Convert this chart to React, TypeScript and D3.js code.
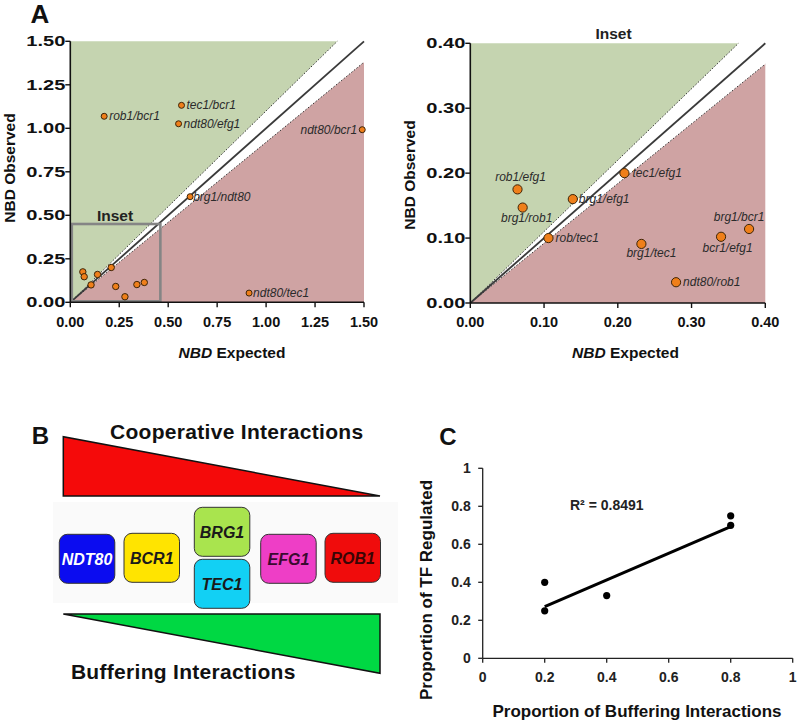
import React from "react";
import * as d3 from "d3";

// ---------- Panel A data ----------
const mainNames = ["rob1/bcr1", "tec1/bcr1", "ndt80/efg1", "ndt80/bcr1", "brg1/ndt80", "ndt80/tec1"];
const mainExpected = [0.173, 0.568, 0.553, 1.491, 0.612, 0.913];
const mainObserved = [1.069, 1.132, 1.026, 0.992, 0.607, 0.053];

const insetNames = ["rob1/efg1", "brg1/rob1", "brg1/efg1", "tec1/efg1", "rob/tec1", "brg1/tec1", "ndt80/rob1", "bcr1/efg1", "brg1/bcr1"];
const insetExpected = [0.064, 0.071, 0.139, 0.209, 0.106, 0.232, 0.279, 0.34, 0.378];
const insetObserved = [0.175, 0.147, 0.16, 0.2, 0.1, 0.091, 0.032, 0.102, 0.114];

const upperSlope = 1.1;
const lowerSlope = 0.92;
const insetBox = [0.46, 0.45];

const mainTicks = [0, 0.25, 0.5, 0.75, 1.0, 1.25, 1.5];
const insetTicks = [0, 0.1, 0.2, 0.3, 0.4];

// ---------- Panel B data ----------
const geneNames = ["NDT80", "BCR1", "BRG1", "TEC1", "EFG1", "ROB1"];
const geneColors = ["#0b0cf0", "#ffe400", "#a9e44e", "#12d0f4", "#ee3ec6", "#f00c0c"];
const geneTextColors = ["#ffffff", "#1a1a1a", "#1a1a1a", "#1a1a1a", "#3a0a30", "#3a0505"];

// ---------- Panel C data ----------
const propBuffering = [0.2, 0.2, 0.4, 0.8, 0.8];
const propRegulated = [0.4, 0.25, 0.33, 0.75, 0.7];
const trendX = [0.2, 0.8];
const trendY = [0.272, 0.693];
const cTicksX = [0, 0.2, 0.4, 0.6, 0.8, 1];
const cTicksY = [0, 0.2, 0.4, 0.6, 0.8, 1];
const rSquaredText = "R² = 0.8491";

// ---------- layout (not data) ----------
const FONT = "'Liberation Sans', Arial, Helvetica, sans-serif";
const GREEN = "#c5d4b0";
const PINK = "#cfa3a3";
const ORANGE = "#ef7f1a";

const mainLabelOffsets: Record<string, [number, number, string]> = {
  "rob1/bcr1": [5, 4, "start"],
  "tec1/bcr1": [5, 4, "start"],
  "ndt80/efg1": [5, 4, "start"],
  "ndt80/bcr1": [-5, 4, "end"],
  "brg1/ndt80": [3, 4, "start"],
  "ndt80/tec1": [4, 4, "start"],
};
const insetLabelOffsets: Record<string, [number, number, string]> = {
  "rob1/efg1": [3, -8, "middle"],
  "brg1/rob1": [4, 14.5, "middle"],
  "brg1/efg1": [6, 4, "start"],
  "tec1/efg1": [8, 4, "start"],
  "rob/tec1": [7, 4, "start"],
  "brg1/tec1": [10, 13, "middle"],
  "ndt80/rob1": [7, 4, "start"],
  "bcr1/efg1": [6.5, 15, "middle"],
  "brg1/bcr1": [-10, -8, "middle"],
};
const geneBoxes = [
  [59.3, 534.3],
  [124, 533.3],
  [194.3, 507.3],
  [194.3, 559.3],
  [260.7, 534.3],
  [325, 533.3],
];

function NBDPanel(props: {
  x0: number; x1: number; y0: number; y1: number; max: number; ticks: number[]; fmt: (v: number) => string;
  points: { name: string; ex: number; ob: number; labeled: boolean; r: number }[];
  offsets: Record<string, [number, number, string]>;
  ylabelX: number; ylabelY: number; xlabelX: number;
  children?: React.ReactNode;
}) {
  const { x0, x1, y0, y1, max } = props;
  const x = d3.scaleLinear().domain([0, max]).range([x0, x1]);
  const y = d3.scaleLinear().domain([0, max]).range([y0, y1]);
  const line = d3.line<[number, number]>().x((d) => x(d[0])).y((d) => y(d[1]));
  const greenPoly: [number, number][] = [[0, 0], [max / upperSlope, max], [0, max]];
  const pinkPoly: [number, number][] = [[0, 0], [max, max * lowerSlope], [max, 0]];
  return (
    <g>
      <path d={line(greenPoly) + "Z"} fill={GREEN} />
      <path d={line(pinkPoly) + "Z"} fill={PINK} />
      <path d={line([[0, 0], [max / upperSlope, max]]) || ""} stroke="#333" strokeWidth={1} strokeDasharray="1.5,1.8" fill="none" />
      <path d={line([[0, 0], [max, max * lowerSlope]]) || ""} stroke="#333" strokeWidth={1} strokeDasharray="1.5,1.8" fill="none" />
      <path d={line([[0, 0], [max, max]]) || ""} stroke="#3a3a3a" strokeWidth={1.8} fill="none" />
      {props.children}
      {/* axes */}
      <line x1={x0} x2={x0} y1={y1} y2={y0} stroke="#111" strokeWidth={1.6} />
      <line x1={x0} x2={x1} y1={y0} y2={y0} stroke="#111" strokeWidth={1.6} />
      {props.ticks.map((t) => (
        <g key={"yt" + t}>
          <line x1={x0 - 5} x2={x0} y1={y(t)} y2={y(t)} stroke="#111" strokeWidth={1.4} />
          <text x={x0 - 5} y={y(t)} dy="0.36em" textAnchor="end" fontFamily={FONT} fontWeight="bold" fontSize={14} fill="#111"
            textLength={39} lengthAdjust="spacingAndGlyphs">{props.fmt(t)}</text>
        </g>
      ))}
      {props.ticks.map((t) => (
        <g key={"xt" + t}>
          <line x1={x(t)} x2={x(t)} y1={y0} y2={y0 + 5} stroke="#111" strokeWidth={1.4} />
          <text x={x(t)} y={y0 + 24.4} textAnchor="middle" fontFamily={FONT} fontWeight="bold" fontSize={14.5} fill="#111">{props.fmt(t)}</text>
        </g>
      ))}
      {props.points.map((p) => (
        <circle key={"c" + p.name + p.ex} cx={x(p.ex)} cy={y(p.ob)} r={p.r} fill={ORANGE} stroke="#3d2408" strokeWidth={1} />
      ))}
      {props.points.filter((p) => p.labeled).map((p) => {
        const o = props.offsets[p.name];
        return (
          <text key={"l" + p.name} x={x(p.ex) + o[0]} y={y(p.ob) + o[1]} textAnchor={o[2] as any} fontFamily={FONT}
            fontStyle="italic" fontSize={12} fill="#2b2b2b">{p.name}</text>
        );
      })}
      <text transform={`translate(${props.ylabelX},${props.ylabelY}) rotate(-90)`} textAnchor="middle" fontFamily={FONT}
        fontWeight="bold" fontSize={15.5} fill="#111">NBD Observed</text>
      <text x={props.xlabelX} y={358} textAnchor="middle" fontFamily={FONT} fontWeight="bold" fontSize={15.5} fill="#111">
        <tspan fontStyle="italic">NBD</tspan> Expected
      </text>
    </g>
  );
}

export default function App() {
  const fmt2 = d3.format(".2f");
  const mainPts = [
    ...mainNames.map((n, i) => ({ name: n, ex: mainExpected[i], ob: mainObserved[i], labeled: true, r: 3 })),
    ...insetNames.map((n, i) => ({ name: n, ex: insetExpected[i], ob: insetObserved[i], labeled: false, r: 3.2 })),
  ];
  const insetPts = insetNames.map((n, i) => ({ name: n, ex: insetExpected[i], ob: insetObserved[i], labeled: true, r: 4.6 }));

  const xA = d3.scaleLinear().domain([0, 1.5]).range([70.3, 364]);
  const yA = d3.scaleLinear().domain([0, 1.5]).range([302.3, 41.3]);

  const cx = d3.scaleLinear().domain([0, 1]).range([482.7, 792.7]);
  const cy = d3.scaleLinear().domain([0, 1]).range([658.3, 468.3]);
  const trend = d3.line<number>().x((d, i) => cx(trendX[i])).y((d, i) => cy(trendY[i]));
  const fmtC = (v: number) => (v === 0 || v === 1 ? String(v) : d3.format(".1f")(v));

  const boxW = 55.5;
  const boxH = 49;

  return (
    <div style={{ position: "absolute", left: 0, top: 0 }}>
      <svg width={800} height={724} style={{ display: "block", background: "#fff" }}>
        <rect x={0} y={0} width={800} height={724} fill="#fff" />
        {/* ===== Panel A ===== */}
        <text x={40} y={23} textAnchor="middle" fontFamily={FONT} fontWeight="bold" fontSize={26} fill="#111">A</text>
        <NBDPanel x0={70.3} x1={364} y0={302.3} y1={41.3} max={1.5} ticks={mainTicks} fmt={fmt2}
          points={mainPts} offsets={mainLabelOffsets} ylabelX={15} ylabelY={168} xlabelX={232}>
          <rect x={xA(0) + 1.5} y={yA(insetBox[1])} width={xA(insetBox[0]) - xA(0) - 1.5} height={yA(0) - yA(insetBox[1]) - 1}
            fill="none" stroke="#858585" strokeWidth={2.6} />
          <text x={115} y={220.5} textAnchor="middle" fontFamily={FONT} fontWeight="bold" fontSize={15.5} fill="#222">Inset</text>
        </NBDPanel>
        <NBDPanel x0={470.3} x1={765.3} y0={303} y1={43.3} max={0.4} ticks={insetTicks} fmt={fmt2}
          points={insetPts} offsets={insetLabelOffsets} ylabelX={415} ylabelY={175} xlabelX={625.5} />
        <text x={613.5} y={39} textAnchor="middle" fontFamily={FONT} fontWeight="bold" fontSize={15.5} fill="#222">Inset</text>

        {/* ===== Panel B ===== */}
        <text x={40.5} y={444} textAnchor="middle" fontFamily={FONT} fontWeight="bold" fontSize={24} fill="#111">B</text>
        <text x={236.7} y={439} textAnchor="middle" fontFamily={FONT} fontWeight="bold" fontSize={21} fill="#111" letterSpacing={0.3}>Cooperative Interactions</text>
        <path d="M63.3,436.7 L63.3,496 L380,496 Z" fill="#f50a0a" stroke="#111" strokeWidth={1.5} strokeLinejoin="miter" />
        <rect x={53} y={502} width={345} height={101} fill="#fafafa" />
        {geneNames.map((g, i) => (
          <g key={g}>
            <rect x={geneBoxes[i][0]} y={geneBoxes[i][1]} width={boxW} height={boxH} rx={8} ry={8}
              fill={geneColors[i]} stroke="#333" strokeWidth={1} />
            <text x={geneBoxes[i][0] + boxW / 2} y={geneBoxes[i][1] + boxH / 2} dy="0.36em" textAnchor="middle" fontFamily={FONT}
              fontWeight="bold" fontStyle="italic" fontSize={16} fill={geneTextColors[i]}>{g}</text>
          </g>
        ))}
        <path d="M63.3,614 L380,614 L380,673.3 Z" fill="#00d843" stroke="#111" strokeWidth={1.5} />
        <text x={183.3} y={679} textAnchor="middle" fontFamily={FONT} fontWeight="bold" fontSize={21} fill="#111" letterSpacing={0.3}>Buffering Interactions</text>

        {/* ===== Panel C ===== */}
        <text x={448} y={445} textAnchor="middle" fontFamily={FONT} fontWeight="bold" fontSize={24} fill="#111">C</text>
        <line x1={cx(0)} x2={cx(0)} y1={cy(1)} y2={cy(0)} stroke="#222" strokeWidth={1.3} />
        <line x1={cx(0)} x2={cx(1)} y1={cy(0)} y2={cy(0)} stroke="#222" strokeWidth={1.3} />
        {cTicksY.map((t) => (
          <g key={"cy" + t}>
            <line x1={cx(0) - 4.5} x2={cx(0)} y1={cy(t)} y2={cy(t)} stroke="#222" strokeWidth={1.3} />
            <text x={470.7} y={cy(t)} dy="0.36em" textAnchor="end" fontFamily={FONT} fontWeight="bold" fontSize={14} fill="#222">{fmtC(t)}</text>
          </g>
        ))}
        {cTicksX.map((t) => (
          <g key={"cx" + t}>
            <line x1={cx(t)} x2={cx(t)} y1={cy(0)} y2={cy(0) + 4.5} stroke="#222" strokeWidth={1.3} />
            <text x={cx(t)} y={681.7} textAnchor="middle" fontFamily={FONT} fontWeight="bold" fontSize={14} fill="#222">{fmtC(t)}</text>
          </g>
        ))}
        <path d={trend(trendX) || ""} stroke="#000" strokeWidth={3} fill="none" />
        {propBuffering.map((v, i) => (
          <circle key={"p" + i} cx={cx(v)} cy={cy(propRegulated[i])} r={3.6} fill="#000" />
        ))}
        <text x={570} y={510} fontFamily={FONT} fontWeight="bold" fontSize={14} fill="#222">{rSquaredText}</text>
        <text transform="translate(432,590) rotate(-90)" textAnchor="middle" fontFamily={FONT} fontWeight="bold" fontSize={17} fill="#111">Proportion of TF Regulated</text>
        <text x={637} y={716.5} textAnchor="middle" fontFamily={FONT} fontWeight="bold" fontSize={17} fill="#111">Proportion of Buffering Interactions</text>
      </svg>
    </div>
  );
}
